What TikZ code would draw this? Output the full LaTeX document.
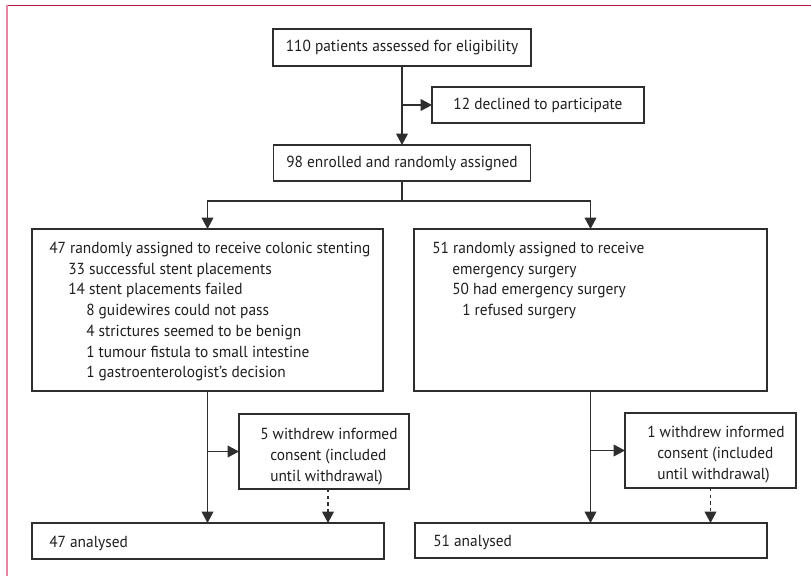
\documentclass[tikz,border=0pt]{standalone}
\usepackage{fontspec}
\setmainfont{PT Sans}
\usetikzlibrary{arrows.meta,calc}
\newlength\reflen
\settowidth\reflen{\fontsize{12pt}{14pt}\selectfont 47 randomly assigned to receive colonic stenting}
\pgfmathsetmacro\stretchfac{240.75/\reflen}
\edef\dosetfont{\noexpand\setmainfont[FakeStretch=\stretchfac]{PT Sans}}
\dosetfont
\definecolor{framered}{HTML}{B5173F}
\definecolor{framepink}{HTML}{E387A3}
\definecolor{linec}{HTML}{2E2E2E}
\definecolor{textc}{HTML}{1E1E1E}
\begin{document}
\begin{tikzpicture}[x=0.75pt,y=-0.75pt,
  font=\fontsize{12pt}{14pt}\selectfont,
  sz/.style 2 args={minimum width=#1*0.75pt, minimum height=#2*0.75pt},
  box/.style={draw=linec, line width=1.1pt, inner sep=0pt, outer sep=0pt, text=textc},
  conn/.style={draw=linec, line width=1.1pt},
  arr/.style={conn, -{Triangle[length=8.5pt,width=8.75pt]}},
  darr/.style={arr, dash pattern=on 2.5pt off 2.5pt},
  txt/.style={anchor=base west, inner sep=0pt, text=textc}]
\useasboundingbox (0,0) rectangle (811,579);
% frame
\draw[framered, line width=0.9pt] (6,5.5) -- (811,5.5);
\draw[framepink, line width=1.6pt] (7,5) -- (7,576);
% boxes
\node[box, sz={258}{37}] (b1) at (402,47.5) {110 patients assessed for eligibility};
\node[box, sz={212}{36}] (b12) at (538,105) {12 declined to participate};
\node[box, sz={257}{36}] (b3) at (402,163) {98 enrolled and randomly assigned};
\node[box, sz={351}{162}] (L) at (207.5,310) {};
\node[box, sz={353}{162}] (R) at (590.5,310) {};
\node[box, sz={170}{75}] (W1) at (324,451.5) {};
\node[box, sz={171}{75}] (W2) at (710.5,450.5) {};
\node[box, sz={352}{36}] (BL) at (208,541) {};
\node[box, sz={352}{35}] (BR) at (591,540.5) {};
% left box text
\node[txt] (l1) at (49,253.5) {47 randomly assigned to receive colonic stenting};
\node[txt] (l2) at (68,274.2) {33 successful stent placements};
\node[txt] (l3) at (68,294.9) {14 stent placements failed};
\node[txt] (l4) at (86,315.6) {8 guidewires could not pass};
\node[txt] (l5) at (86,336.3) {4 strictures seemed to be benign};
\node[txt] (l6) at (86,357.0) {1 tumour fistula to small intestine};
\node[txt] (l7) at (86,377.7) {1 gastroenterologist’s decision};
% right box text
\node[txt] (r1) at (432,253.5) {51 randomly assigned to receive};
\node[txt] (r2) at (452,274.2) {emergency surgery};
\node[txt] (r3) at (452,294.9) {50 had emergency surgery};
\node[txt] (r4) at (462,315.6) {1 refused surgery};
% withdrawal boxes text
\node[txt] (w11) at (260,439) {5 withdrew informed};
\node[txt] (w12) at (270,460) {consent (included};
\node[txt] (w13) at (270,481) {until withdrawal)};
\node[txt] (w21) at (647,437) {1 withdrew informed};
\node[txt] (w22) at (657,458) {consent (included};
\node[txt] (w23) at (657,479) {until withdrawal)};
% analysed text
\node[txt] (a1) at (49,547) {47 analysed};
\node[txt] (a2) at (433,546.5) {51 analysed};
% connectors
\draw[arr] (b1.south) -- (b3.north);
\coordinate (j1) at (b1.south |- b12.west);
\draw[arr] (j1) -- (b12.west);
\coordinate (s) at ($(b3.south)+(0,20)$);
\draw[conn] (b3.south) -- (s);
\draw[arr] (s) -| (L.north);
\draw[arr] (s) -| (R.north);
\draw[arr] (L.south) -- (L.south |- BL.north);
\coordinate (j2) at (L.south |- W1.west);
\draw[arr] (j2) -- (W1.west);
\draw[darr] ([xshift=3pt]W1.south) -- ([xshift=3pt]W1.south |- BL.north);
\draw[arr] (R.south) -- (R.south |- BR.north);
\coordinate (j3) at (R.south |- W2.west);
\draw[arr] (j3) -- (W2.west);
\draw[darr] (W2.south) -- (W2.south |- BR.north);
\end{tikzpicture}
\end{document}
